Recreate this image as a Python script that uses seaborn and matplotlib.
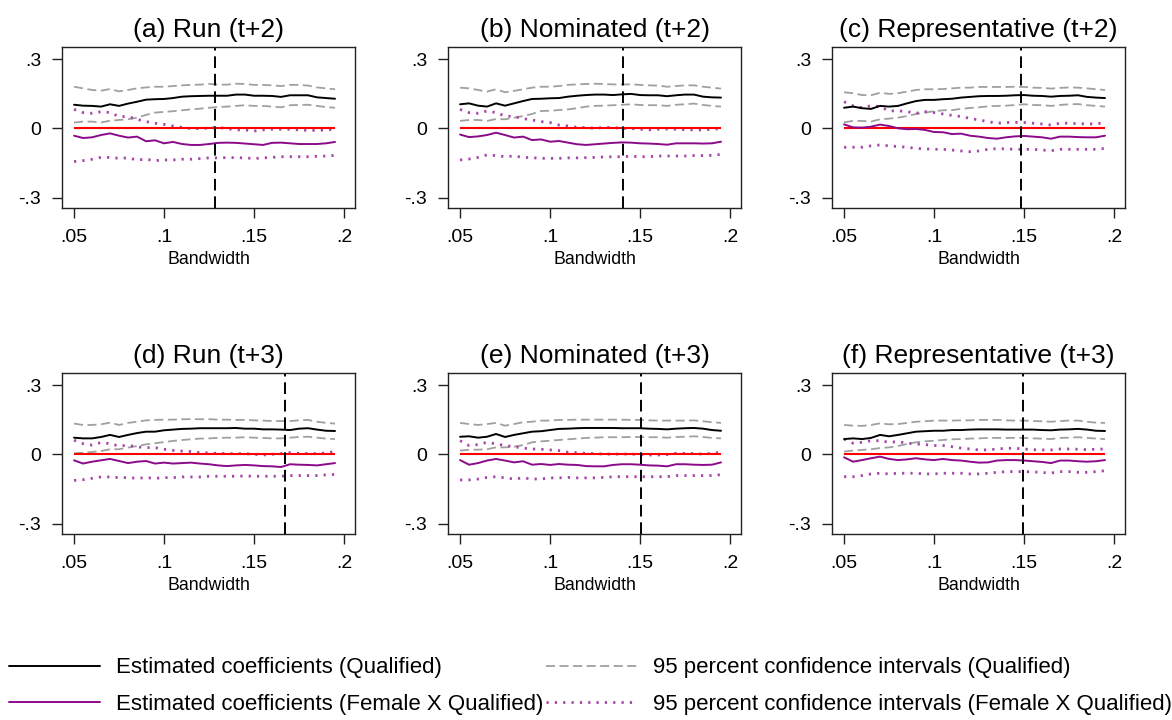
import matplotlib
matplotlib.use("Agg")
import matplotlib.pyplot as plt
from matplotlib.lines import Line2D
import seaborn as sns

sns.set_style("ticks")
plt.rcParams["font.family"] = ["Liberation Sans", "DejaVu Sans"]
plt.rcParams["text.color"] = "black"
plt.rcParams["axes.labelcolor"] = "black"

# bandwidth grid used in every panel
bw = [0.050, 0.055, 0.060, 0.065, 0.070, 0.075, 0.080, 0.085, 0.090, 0.095,
      0.100, 0.105, 0.110, 0.115, 0.120, 0.125, 0.130, 0.135, 0.140, 0.145,
      0.150, 0.155, 0.160, 0.165, 0.170, 0.175, 0.180, 0.185, 0.190, 0.195]

titles = ["(a) Run (t+2)", "(b) Nominated (t+2)", "(c) Representative (t+2)",
          "(d) Run (t+3)", "(e) Nominated (t+3)", "(f) Representative (t+3)"]

# optimal bandwidth (vertical dashed line)
opt_bw = [0.1285, 0.1405, 0.1485, 0.167, 0.1505, 0.1495]

# (a) Run t+2
a_coef_q = [.102, .098, .097, .094, .104, .097, .107, .115, .124, .126, .127, .131, .137, .139, .140,
            .141, .141, .141, .146, .146, .141, .141, .140, .136, .143, .143, .143, .134, .131, .128]
a_hi_q = [.180, .173, .166, .163, .170, .160, .166, .173, .177, .180, .180, .183, .186, .188, .189,
          .192, .189, .189, .193, .192, .188, .188, .186, .183, .188, .188, .185, .177, .173, .169]
a_lo_q = [.025, .029, .029, .025, .033, .036, .039, .046, .058, .068, .071, .074, .078, .082, .085,
          .089, .092, .094, .097, .100, .097, .097, .094, .091, .100, .101, .102, .097, .092, .089]
a_coef_f = [-.032, -.042, -.039, -.029, -.022, -.032, -.040, -.036, -.056, -.052, -.065, -.059, -.068, -.072, -.072,
            -.068, -.063, -.062, -.063, -.066, -.069, -.072, -.063, -.062, -.065, -.068, -.068, -.068, -.065, -.059]
a_hi_f = [.082, .068, .065, .072, .068, .051, .051, .039, .029, .022, .017, .010, .004, -.001, -.001,
          .001, .004, -.001, -.007, -.007, -.012, -.007, -.004, -.004, -.004, -.007, -.009, -.009, -.007, -.004]
a_lo_f = [-.144, -.140, -.134, -.126, -.126, -.130, -.128, -.137, -.134, -.140, -.137, -.137, -.134, -.134, -.131,
          -.128, -.128, -.127, -.127, -.128, -.131, -.128, -.126, -.123, -.123, -.123, -.123, -.121, -.120, -.117]

# (b) Nominated t+2
b_coef_q = [.104, .108, .098, .094, .108, .098, .108, .118, .127, .128, .130, .131, .137, .141, .144,
            .146, .146, .144, .147, .149, .144, .143, .143, .139, .143, .146, .146, .137, .134, .133]
b_hi_q = [.176, .173, .166, .159, .169, .156, .162, .169, .176, .180, .180, .183, .188, .190, .192,
          .193, .192, .190, .190, .190, .188, .186, .185, .180, .183, .186, .186, .180, .176, .172]
b_lo_q = [.032, .036, .036, .032, .040, .039, .046, .053, .062, .075, .076, .079, .082, .087, .094,
          .097, .098, .100, .102, .104, .101, .100, .100, .097, .102, .104, .107, .101, .097, .094]
b_coef_f = [-.027, -.038, -.035, -.029, -.019, -.029, -.040, -.036, -.051, -.048, -.058, -.055, -.062, -.069, -.072,
            -.069, -.066, -.063, -.061, -.062, -.065, -.066, -.068, -.071, -.065, -.065, -.065, -.066, -.065, -.058]
b_hi_f = [.082, .068, .065, .075, .068, .053, .051, .042, .036, .029, .025, .014, .010, .004, .003,
          .000, .004, .003, .000, -.001, -.004, -.007, -.004, -.003, -.004, -.006, -.007, -.007, -.004, -.001]
b_lo_f = [-.137, -.133, -.126, -.115, -.118, -.123, -.120, -.126, -.127, -.130, -.130, -.130, -.128, -.128, -.127,
          -.126, -.124, -.123, -.123, -.121, -.123, -.123, -.120, -.120, -.120, -.120, -.118, -.118, -.117, -.113]

# (c) Representative t+2
c_coef_q = [.089, .094, .087, .084, .097, .094, .097, .108, .118, .123, .123, .126, .128, .133, .136,
            .139, .140, .140, .141, .143, .144, .141, .140, .137, .140, .141, .143, .136, .133, .131]
c_hi_q = [.156, .152, .144, .143, .154, .149, .152, .159, .166, .169, .169, .170, .173, .176, .176,
          .179, .179, .179, .179, .180, .179, .176, .175, .172, .175, .177, .176, .173, .169, .166]
c_lo_q = [.026, .032, .032, .029, .039, .042, .046, .053, .062, .068, .074, .078, .079, .084, .088,
          .091, .095, .097, .098, .101, .104, .101, .100, .097, .101, .104, .105, .100, .097, .094]
c_coef_f = [.017, .004, .003, .007, .016, .010, .000, -.004, -.003, -.007, -.016, -.017, -.025, -.023, -.032,
            -.036, -.042, -.045, -.039, -.035, -.033, -.036, -.039, -.045, -.036, -.036, -.038, -.039, -.039, -.032]
c_hi_f = [.115, .097, .089, .098, .094, .075, .076, .072, .065, .072, .068, .062, .056, .051, .043,
          .036, .029, .022, .025, .026, .025, .022, .019, .014, .022, .022, .020, .019, .019, .025]
c_lo_f = [-.082, -.082, -.082, -.076, -.072, -.076, -.079, -.082, -.087, -.089, -.091, -.091, -.094, -.098, -.101,
          -.098, -.091, -.088, -.089, -.091, -.091, -.091, -.094, -.097, -.091, -.091, -.091, -.091, -.091, -.087]

# (d) Run t+3
d_coef_q = [.072, .069, .069, .075, .084, .075, .084, .092, .098, .098, .104, .107, .110, .111, .113,
            .113, .113, .113, .114, .111, .111, .108, .108, .107, .105, .111, .113, .107, .102, .101]
d_hi_q = [.133, .127, .127, .130, .137, .127, .136, .141, .147, .149, .150, .150, .152, .152, .152,
          .152, .150, .150, .149, .149, .147, .146, .144, .144, .144, .147, .149, .141, .136, .133]
d_lo_q = [.004, .007, .010, .014, .022, .022, .029, .036, .043, .048, .053, .058, .062, .065, .068,
          .069, .071, .072, .072, .074, .072, .071, .069, .069, .072, .075, .076, .072, .068, .066]
d_coef_f = [-.026, -.040, -.032, -.026, -.020, -.029, -.038, -.032, -.029, -.040, -.036, -.040, -.038, -.036, -.040,
            -.043, -.048, -.051, -.048, -.046, -.048, -.051, -.052, -.055, -.043, -.045, -.046, -.048, -.043, -.038]
d_hi_f = [.061, .046, .040, .051, .046, .036, .039, .032, .029, .029, .022, .017, .014, .012, .007,
          .006, .004, .003, .003, .003, .000, -.003, .000, .003, .007, .004, .003, .003, .006, .012]
d_lo_f = [-.113, -.110, -.104, -.098, -.098, -.101, -.101, -.104, -.101, -.104, -.101, -.101, -.098, -.098, -.098,
          -.095, -.095, -.095, -.095, -.094, -.095, -.095, -.095, -.095, -.092, -.092, -.092, -.092, -.089, -.087]

# (e) Nominated t+3
e_coef_q = [.076, .078, .072, .076, .088, .075, .084, .091, .098, .100, .105, .110, .111, .113, .114,
            .114, .114, .114, .113, .113, .113, .111, .110, .108, .111, .113, .114, .111, .105, .102]
e_hi_q = [.136, .131, .127, .131, .136, .124, .131, .139, .141, .146, .146, .149, .149, .150, .150,
          .150, .150, .150, .150, .149, .149, .147, .146, .146, .146, .146, .147, .143, .139, .136]
e_lo_q = [.016, .020, .020, .022, .030, .030, .033, .040, .052, .056, .059, .062, .065, .068, .071,
          .072, .074, .074, .074, .075, .075, .074, .074, .072, .075, .076, .078, .075, .071, .069]
e_coef_f = [-.025, -.045, -.038, -.027, -.020, -.027, -.035, -.030, -.045, -.042, -.046, -.042, -.045, -.046, -.051,
            -.052, -.052, -.046, -.043, -.043, -.045, -.048, -.049, -.052, -.043, -.043, -.045, -.046, -.045, -.035]
e_hi_f = [.059, .038, .042, .052, .045, .038, .033, .027, .023, .022, .019, .016, .009, .007, .004,
          .003, .001, .001, .001, .001, -.001, -.003, -.003, -.001, .004, .004, .003, .001, .004, .009]
e_lo_f = [-.111, -.111, -.107, -.100, -.097, -.102, -.107, -.102, -.107, -.107, -.102, -.102, -.100, -.102, -.102,
          -.102, -.100, -.097, -.097, -.097, -.097, -.097, -.097, -.097, -.092, -.092, -.092, -.092, -.092, -.088]

# (f) Representative t+3
f_coef_q = [.066, .069, .066, .071, .084, .078, .084, .091, .098, .100, .102, .102, .105, .105, .107,
            .108, .108, .108, .107, .107, .107, .107, .105, .104, .107, .108, .110, .107, .102, .101]
f_hi_q = [.127, .124, .123, .127, .134, .130, .131, .136, .141, .143, .146, .146, .146, .147, .147,
          .149, .149, .149, .147, .146, .146, .144, .143, .141, .144, .146, .146, .141, .137, .136]
f_lo_q = [.012, .016, .019, .022, .027, .030, .036, .045, .052, .056, .059, .062, .065, .066, .068,
          .069, .071, .071, .071, .071, .071, .069, .068, .066, .071, .072, .074, .071, .068, .066]
f_coef_f = [-.013, -.032, -.025, -.017, -.010, -.020, -.025, -.022, -.017, -.022, -.025, -.020, -.025, -.027, -.032,
            -.036, -.035, -.027, -.025, -.025, -.027, -.030, -.033, -.038, -.027, -.027, -.030, -.032, -.030, -.025]
f_hi_f = [.066, .048, .052, .059, .059, .052, .055, .048, .045, .042, .038, .038, .033, .027, .023,
          .019, .019, .023, .026, .026, .023, .020, .019, .019, .023, .023, .022, .020, .022, .023]
f_lo_f = [-.097, -.097, -.092, -.085, -.082, -.085, -.082, -.082, -.082, -.085, -.085, -.082, -.082, -.082, -.085,
          -.085, -.082, -.078, -.075, -.075, -.075, -.076, -.079, -.081, -.075, -.075, -.078, -.078, -.075, -.071]

panels = [
    (a_coef_q, a_hi_q, a_lo_q, a_coef_f, a_hi_f, a_lo_f),
    (b_coef_q, b_hi_q, b_lo_q, b_coef_f, b_hi_f, b_lo_f),
    (c_coef_q, c_hi_q, c_lo_q, c_coef_f, c_hi_f, c_lo_f),
    (d_coef_q, d_hi_q, d_lo_q, d_coef_f, d_hi_f, d_lo_f),
    (e_coef_q, e_hi_q, e_lo_q, e_coef_f, e_hi_f, e_lo_f),
    (f_coef_q, f_hi_q, f_lo_q, f_coef_f, f_hi_f, f_lo_f),
]

legend_labels = ["Estimated coefficients (Qualified)",
                 "Estimated coefficients (Female X Qualified)",
                 "95 percent confidence intervals (Qualified)",
                 "95 percent confidence intervals (Female X Qualified)"]

COL_Q = "black"
COL_CI_Q = "#a0a0a0"
COL_F = "#8b0a8b"
COL_CI_F = "#a845a8"
DASH_Q = (0, (5, 2.5))
DOT_F = (0, (0.8, 2.2))

W, H = 1172, 720
fig = plt.figure(figsize=(W / 100, H / 100), dpi=100)

lefts = [62, 448, 832]
tops = [47, 373]
ax_w, ax_h = 293, 161

for i, (coef_q, hi_q, lo_q, coef_f, hi_f, lo_f) in enumerate(panels):
    r, c = divmod(i, 3)
    ax = fig.add_axes([lefts[c] / W, 1 - (tops[r] + ax_h) / H, ax_w / W, ax_h / H])

    sns.lineplot(x=bw, y=hi_q, ax=ax, color=COL_CI_Q, linestyle=DASH_Q, lw=1.3)
    sns.lineplot(x=bw, y=lo_q, ax=ax, color=COL_CI_Q, linestyle=DASH_Q, lw=1.3)
    sns.lineplot(x=bw, y=hi_f, ax=ax, color=COL_CI_F, linestyle=DOT_F, lw=2.0)
    sns.lineplot(x=bw, y=lo_f, ax=ax, color=COL_CI_F, linestyle=DOT_F, lw=2.0)
    ax.hlines(0, bw[0], bw[-1], color="red", lw=1.5)
    sns.lineplot(x=bw, y=coef_q, ax=ax, color=COL_Q, lw=1.4)
    sns.lineplot(x=bw, y=coef_f, ax=ax, color=COL_F, lw=1.4)
    ax.axvline(opt_bw[i], color="black", lw=1.4, linestyle=(0, (6, 3)))

    ax.set_xlim(0.0433, 0.2061)
    ax.set_ylim(-0.345, 0.352)
    ax.set_xticks([0.05, 0.1, 0.15, 0.2])
    ax.set_xticklabels([".05", ".1", ".15", ".2"])
    ax.set_yticks([-0.3, 0, 0.3])
    ax.set_yticklabels(["-.3", "0", ".3"])
    ax.tick_params(axis="both", direction="out", length=7, width=1, labelsize=14,
                   color="#222222", labelcolor="black")
    ax.tick_params(axis="y", pad=8)
    ax.tick_params(axis="x", pad=8)
    for sp in ax.spines.values():
        sp.set_visible(True)
        sp.set_color("#222222")
        sp.set_linewidth(1.0)
    ax.set_xlabel("Bandwidth", fontsize=12.8, labelpad=4)
    ax.set_ylabel("")
    ax.set_title(titles[i], fontsize=19, pad=7)

handles = [
    Line2D([], [], color=COL_Q, lw=1.4),
    Line2D([], [], color=COL_F, lw=1.4),
    Line2D([], [], color=COL_CI_Q, lw=1.3, linestyle=DASH_Q),
    Line2D([], [], color=COL_CI_F, lw=2.0, linestyle=DOT_F),
]
fig.legend(handles, legend_labels, ncol=2, loc="lower left",
           bbox_to_anchor=(9 / W, 5 / H), frameon=False, fontsize=16,
           handlelength=4.1, handletextpad=0.72, columnspacing=0.1,
           labelspacing=0.7, borderpad=0, borderaxespad=0)

fig.savefig("out.png", dpi=100)
